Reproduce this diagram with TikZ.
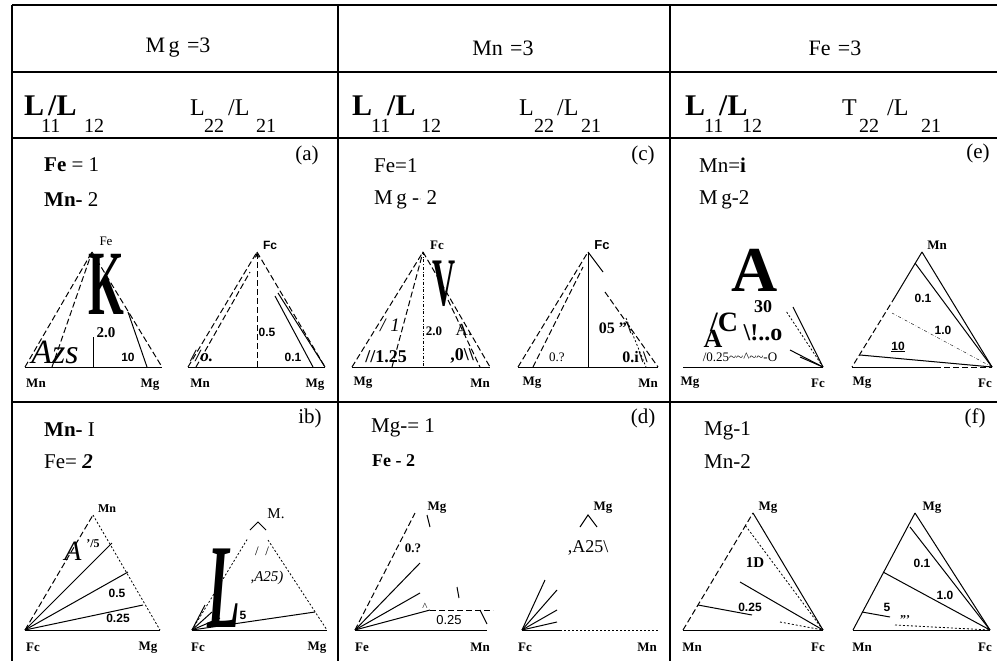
\documentclass[tikz,border=0pt]{standalone}
\usepackage{fontspec}
\usepackage{graphicx}
\setmainfont{Liberation Serif}
\newfontfamily\numfont{Liberation Sans}
\usetikzlibrary{arrows.meta}
\newcommand{\pxs}[1]{\fontsize{#1}{#1}\selectfont}
\tikzset{
  rule/.style={line width=1.4pt},
  edge/.style={line width=1pt},
  dedge/.style={line width=1pt, dash pattern=on 6pt off 3pt},
  dotedge/.style={line width=0.8pt, dash pattern=on 2pt off 2pt},
  vtx/.style={font=\bfseries\pxs{13}, inner sep=0pt},
  num/.style={font=\numfont\bfseries\pxs{12}, inner sep=0pt},
  conc/.style={font=\pxs{21}, anchor=west, inner sep=0pt},
  tag/.style={font=\pxs{21}, inner sep=0pt},
  txt/.style={inner sep=0pt},
  bigL/.style={font=\bfseries\pxs{30}, anchor=base west, inner sep=0pt},
  smL/.style={font=\pxs{24}, anchor=base west, inner sep=0pt},
  subs/.style={font=\pxs{20}, anchor=base west, inner sep=0pt},
}
\begin{document}
\begin{tikzpicture}[x=1pt,y=-1pt]
\useasboundingbox (0,0) rectangle (997,661);
% table
\draw[rule] (12,5) -- (997,5);
\draw[rule] (12,72) -- (997,72);
\draw[rule] (12,138) -- (997,138);
\draw[rule] (12,402) -- (997,402);
\draw[rule] (12,5) -- (12,661);
\draw[rule] (338,5) -- (338,661);
\draw[rule] (670,5) -- (670,661);

\node[font=\pxs{22}] (hmg) at (178,48) {M\,g\,\,=3};
\node[font=\pxs{22}] (hmn) at (503,48) {Mn\,\,=3};
\node[font=\pxs{22}] (hfe) at (835,48) {Fe\,\,=3};

% L row
\node[bigL] (l1a) at (24,115) {L};
\node[subs] (l1b) at (41,132) {11};
\node[bigL] (l1c) at (48,115) {/L};
\node[subs] (l1d) at (84,132) {12};
\node[smL] (l1e) at (190,115) {L};
\node[subs] (l1f) at (204,132) {22};
\node[smL] (l1g) at (228,115) {/L};
\node[subs] (l1h) at (256,132) {21};
\node[bigL] (l2a) at (352,115) {L};
\node[subs] (l2b) at (371,132) {11};
\node[bigL] (l2c) at (387,115) {/L};
\node[subs] (l2d) at (421,132) {12};
\node[smL] (l2e) at (519,115) {L};
\node[subs] (l2f) at (534,132) {22};
\node[smL] (l2g) at (557,115) {/L};
\node[subs] (l2h) at (581,132) {21};
\node[bigL] (l3a) at (685,115) {L};
\node[subs] (l3b) at (704,132) {11};
\node[bigL] (l3c) at (719,115) {/L};
\node[subs] (l3d) at (742,132) {12};
\node[smL] (l3e) at (842,115) {T};
\node[subs] (l3f) at (859,132) {22};
\node[smL] (l3g) at (887,115) {/L};
\node[subs] (l3h) at (921,132) {21};

% panel a
\node[tag] (taga) at (307,155) {(a)};
\node[conc] (ca1) at (44,165) {\textbf{Fe} = 1};
\node[conc] (ca2) at (44,200) {\textbf{Mn-} 2};
\coordinate (aLmn) at (25,367);
\coordinate (aLmg) at (162,367);
\coordinate (aLfe) at (92,252);
\draw[edge] (aLmn) -- (aLmg);
\draw[dedge] (aLmn) -- (aLfe);
\draw[dedge] (52,367) -- (aLfe);
\draw[dedge] (aLfe) -- (aLmg);
\draw[edge] (128,312) -- (147,367);
\draw[edge] (93,337) -- (93,367);
\node[txt,font=\pxs{13}] (aLlfe) at (106,241) {Fe};
\node[txt,font=\bfseries\pxs{92}] (aLk) at (106,284) {\scalebox{0.5}[1]{K}};
\node[txt,font=\bfseries\pxs{15}] (aL20) at (106,333) {2.0};
\node[num] (aL10) at (128,357) {10};
\node[txt,font=\itshape\pxs{34}] (aLazs) at (55,352) {Azs};
\node[vtx] (aLvmn) at (36,383) {Mn};
\node[vtx] (aLvmg) at (150,385) {Mg};

\coordinate (aRmn) at (188,367);
\coordinate (aRmg) at (325,367);
\coordinate (aRfe) at (257,252);
\draw[edge] (aRmn) -- (aRmg);
\draw[dedge,-{Stealth[length=6pt]}] (257,367) -- (aRfe);
\draw[dedge] (aRmn) -- (aRfe);
\draw[dedge] (196,367) -- (250,272);
\draw[dedge] (aRfe) -- (aRmg);
\draw[edge] (278,293) -- (aRmg);
\draw[edge] (275,296) -- (313,367);
\node[txt,font=\numfont\bfseries\pxs{12}] (aRfc) at (270,245) {Fc};
\node[num] (aR05) at (267,332) {0.5};
\node[num] (aR01) at (293,357) {0.1};
\node[txt,font=\bfseries\itshape\pxs{17}] (aRo) at (202,356) {//o.};
\node[vtx] (aRvmn) at (200,383) {Mn};
\node[vtx] (aRvmg) at (315,385) {Mg};

% panel b
\node[tag] (tagb) at (310,418) {ib)};
\node[conc] (cb1) at (44,430) {\textbf{Mn-} I};
\node[conc] (cb2) at (44,462) {Fe= \textbf{\itshape 2}};
\coordinate (bLfc) at (25,630);
\coordinate (bLmg) at (160,630);
\coordinate (bLmn) at (93,515);
\draw[edge] (bLfc) -- (bLmg);
\draw[dedge] (bLfc) -- (bLmn);
\draw[dotedge] (bLmn) -- (bLmg);
\draw[edge] (bLfc) -- (112,543);
\draw[edge] (bLfc) -- (128,572);
\draw[edge] (bLfc) -- (143,605);
\node[vtx,font=\bfseries\pxs{12}] (bLvmn) at (107,509) {Mn};
\node[txt,font=\itshape\pxs{28}] (bLa) at (73,551) {A};
\node[txt,font=\bfseries\pxs{12}] (bL75) at (93,544) {'/5};
\node[num] (bL05) at (117,593) {0.5};
\node[num] (bL025) at (118,618) {0.25};
\node[vtx] (bLvfc) at (33,647) {Fc};
\node[vtx] (bLvmg) at (148,648) {Mg};

\coordinate (bRfc) at (192,630);
\coordinate (bRmg) at (327,630);
\coordinate (bRmn) at (258,522);
\draw[edge] (bRfc) -- (bRmg);
\draw[edge] (250,530) -- (bRmn) -- (266,530);
\draw[dotedge] (268,540) -- (bRmg);
\draw[dotedge] (bRfc) -- (248,538);
\draw[edge] (bRfc) -- (315,612);
\draw[edge] (bRfc) -- (205,605);
\draw[edge] (bRfc) -- (212,612);
\draw[edge] (bRfc) -- (220,618);
\node[txt,font=\pxs{15}] (bRm) at (276,514) {M.};
\node[txt,font=\bfseries\itshape\pxs{120}] (bRl) at (224,588) {\scalebox{0.45}[1]{L}};
\node[txt,font=\itshape\pxs{15}] (bRa25) at (267,578) {,A25)};
\node[txt,font=\pxs{13}] (bRsl) at (262,551) {/\ \ /};
\node[num] (bR5) at (243,615) {5};
\node[vtx] (bRvfc) at (198,647) {Fc};
\node[vtx] (bRvmg) at (317,648) {Mg};

% panel c
\node[tag] (tagc) at (643,155) {(c)};
\node[conc] (cc1) at (374,166) {Fe=1};
\node[conc] (cc2) at (374,200) {M\,g -{\raisebox{0.3ex}{\pxs{8}$\cdot$}} 2};
\coordinate (cLmg) at (352,367);
\coordinate (cLmn) at (490,367);
\coordinate (cLfc) at (423,252);
\draw[edge] (cLmg) -- (cLmn);
\draw[dedge] (cLmg) -- (cLfc);
\draw[dedge] (392,367) -- (cLfc);
\draw[dash dot] (cLfc) -- (423,367);
\draw[dedge] (cLfc) -- (cLmn);
\draw[dedge] (448,300) -- (480,367);
\node[vtx] (cLvfc) at (437,245) {Fc};
\node[txt,font=\bfseries\pxs{68}] (cLv) at (444,284) {\scalebox{0.47}[1]{V}};
\node[txt,font=\itshape\pxs{19}] (cL1) at (390,325) {/ 1};
\node[txt,font=\bfseries\pxs{13}] (cL20) at (434,331) {2.0};
\node[txt,font=\pxs{17}] (cLa) at (464,330) {A.};
\node[txt,font=\bfseries\pxs{18}] (cL125) at (386,357) {//1.25};
\node[txt,font=\bfseries\pxs{18}] (cL0) at (462,356) {,0\textbackslash\textbackslash};
\node[vtx] (cLvmg) at (363,383) {Mg};
\node[vtx] (cLvmn) at (480,383) {Mn};

\coordinate (cRmg) at (518,367);
\coordinate (cRmn) at (658,367);
\coordinate (cRfc) at (588,252);
\draw[edge] (cRmg) -- (cRmn);
\draw[edge] (cRfc) -- (588,367);
\draw[dedge] (cRmg) -- (cRfc);
\draw[dedge] (533,367) -- (583,267);
\draw[edge] (cRfc) -- (603,272);
\draw[dedge] (605,292) -- (cRmn);
\draw[dotedge] (626,318) -- (646,367);
\node[txt,font=\numfont\bfseries\pxs{13}] (cRvfc) at (602,245) {Fc};
\node[txt,font=\bfseries\pxs{16}] (cR05) at (615,328) {05 ''\textbackslash};
\node[txt,font=\pxs{13}] (cR0q) at (557,357) {0.?};
\node[txt,font=\bfseries\pxs{16}] (cR0i) at (635,357) {0.i\textbackslash\textbackslash};
\node[vtx] (cRvmg) at (532,383) {Mg};
\node[vtx] (cRvmn) at (648,383) {Mn};

% panel d
\node[tag] (tagd) at (643,418) {(d)};
\node[conc] (cd1) at (371,428) {Mg-= 1};
\node[conc,font=\bfseries\pxs{18}] (cd2) at (372,461) {Fe - 2};
\coordinate (dLfe) at (355,630);
\coordinate (dLmn) at (487,630);
\coordinate (dLmg) at (415,513);
\draw[edge] (dLfe) -- (dLmn);
\draw[dedge] (dLfe) -- (dLmg);
\draw[edge] (427,515) -- (430,527);
\draw[edge] (dLfe) -- (420,563);
\draw[edge] (dLfe) -- (420,593);
\draw[edge] (dLfe) -- (430,610);
\draw[dedge] (430,610) -- (493,610);
\draw[edge] (457,587) -- (459,598);
\draw[edge] (480,610) -- (487,624);
\node[vtx] (dLvmg) at (437,508) {Mg};
\node[txt,font=\bfseries\pxs{13}] (dL07) at (413,548) {0.?};
\node[txt,font=\pxs{11}] (dLc) at (425,607) {\textasciicircum};
\node[txt,font=\numfont\pxs{13}] (dL025) at (449,620) {0.25};
\node[vtx] (dLvfe) at (362,647) {Fe};
\node[vtx] (dLvmn) at (480,647) {Mn};

\coordinate (dRfc) at (522,630);
\coordinate (dRmn) at (658,630);
\coordinate (dRmg) at (588,515);
\draw[edge] (dRfc) -- (560,630);
\draw[dotedge] (560,630) -- (dRmn);
\draw[edge] (580,527) -- (dRmg) -- (597,527);
\draw[edge] (dRfc) -- (545,580);
\draw[edge] (dRfc) -- (557,590);
\draw[edge] (dRfc) -- (557,610);
\draw[edge] (dRfc) -- (557,622);
\node[vtx] (dRvmg) at (603,508) {Mg};
\node[txt,font=\pxs{18}] (dRa25) at (588,548) {,A25\textbackslash};
\node[vtx] (dRvfc) at (525,647) {Fc};
\node[vtx] (dRvmn) at (647,647) {Mn};

% panel e
\node[tag] (tage) at (978,153) {(e)};
\node[conc] (ce1) at (699,165) {Mn=\textbf{i}};
\node[conc] (ce2) at (699,200) {M\,g-2};
\coordinate (eLmg) at (683,367);
\coordinate (eLfc) at (823,367);
\draw[edge] (eLmg) -- (eLfc);
\draw[edge] (eLfc) -- (793,307);
\draw[dotedge] (eLfc) -- (786,311);
\draw[edge] (eLfc) -- (790,350);
\draw[edge] (eLfc) -- (800,357);
\node[txt,font=\bfseries\pxs{64}] (eLa) at (755,270) {A};
\node[txt,font=\bfseries\pxs{28}] (eLc) at (724,322) {/C};
\node[txt,font=\bfseries\pxs{18}] (eL30) at (763,307) {30};
\node[txt,font=\bfseries\pxs{26}] (eLa2) at (713,339) {A};
\node[txt,font=\bfseries\pxs{24}] (eLo) at (763,333) {\textbackslash!..o};
\node[txt,font=\pxs{13}] (eL025) at (740,357) {/0.25\textasciitilde\textasciitilde\textasciicircum\textasciitilde\textasciitilde-O};
\node[vtx] (eLvmg) at (690,383) {Mg};
\node[vtx] (eLvfc) at (818,383) {Fc};

\coordinate (eRmg) at (852,367);
\coordinate (eRfc) at (992,367);
\coordinate (eRmn) at (922,252);
\draw[edge] (eRmg) -- (935,367);
\draw[dedge] (935,367) -- (eRfc);
\draw[edge] (eRmn) -- (895,297);
\draw[dedge] (895,297) -- (eRmg);
\draw[edge] (eRmn) -- (eRfc);
\draw[edge] (eRfc) -- (915,263);
\draw[dash dot] (eRfc) -- (892,313);
\draw[edge] (eRfc) -- (860,355);
\node[vtx] (eRvmn) at (937,245) {Mn};
\node[num] (eR01) at (923,298) {0.1};
\node[num] (eR10) at (943,330) {1.0};
\node[num] (eR10b) at (898,347) {\underline{10}};
\node[vtx] (eRvmg) at (862,383) {Mg};
\node[vtx] (eRvfc) at (985,383) {Fc};

% panel f
\node[tag] (tagf) at (975,418) {(f)};
\node[conc] (cf1) at (704,431) {Mg-1};
\node[conc] (cf2) at (704,462) {Mn-2};
\coordinate (fLmn) at (683,630);
\coordinate (fLfc) at (823,630);
\coordinate (fLmg) at (753,513);
\draw[edge] (fLmn) -- (fLfc);
\draw[dedge] (fLmn) -- (fLmg);
\draw[edge] (fLmg) -- (fLfc);
\draw[dotedge] (fLfc) -- (745,525);
\draw[edge] (fLfc) -- (740,582);
\draw[edge] (698,605) -- (752,615);
\draw[dotedge] (780,622) -- (fLfc);
\node[vtx] (fLvmg) at (768,508) {Mg};
\node[txt,font=\bfseries\pxs{15}] (fL1d) at (755,563) {1D};
\node[num] (fL025) at (750,607) {0.25};
\node[vtx] (fLvmn) at (692,647) {Mn};
\node[vtx] (fLvfc) at (818,647) {Fc};

\coordinate (fRmn) at (853,630);
\coordinate (fRfc) at (990,630);
\coordinate (fRmg) at (915,513);
\draw[edge] (fRmn) -- (fRfc);
\draw[edge] (fRmn) -- (fRmg);
\draw[edge] (fRmg) -- (fRfc);
\draw[edge] (fRfc) -- (910,527);
\draw[edge] (fRfc) -- (883,572);
\draw[edge] (862,612) -- (890,617);
\draw[dotedge] (895,625) -- (fRfc);
\node[vtx] (fRvmg) at (932,508) {Mg};
\node[num] (fR01) at (922,563) {0.1};
\node[num] (fR10) at (945,595) {1.0};
\node[num] (fR5) at (887,607) {5};
\node[txt,font=\bfseries\pxs{12}] (fRq) at (905,620) {'''};
\node[vtx] (fRvmn) at (862,647) {Mn};
\node[vtx] (fRvfc) at (985,647) {Fc};
\end{tikzpicture}
\end{document}
